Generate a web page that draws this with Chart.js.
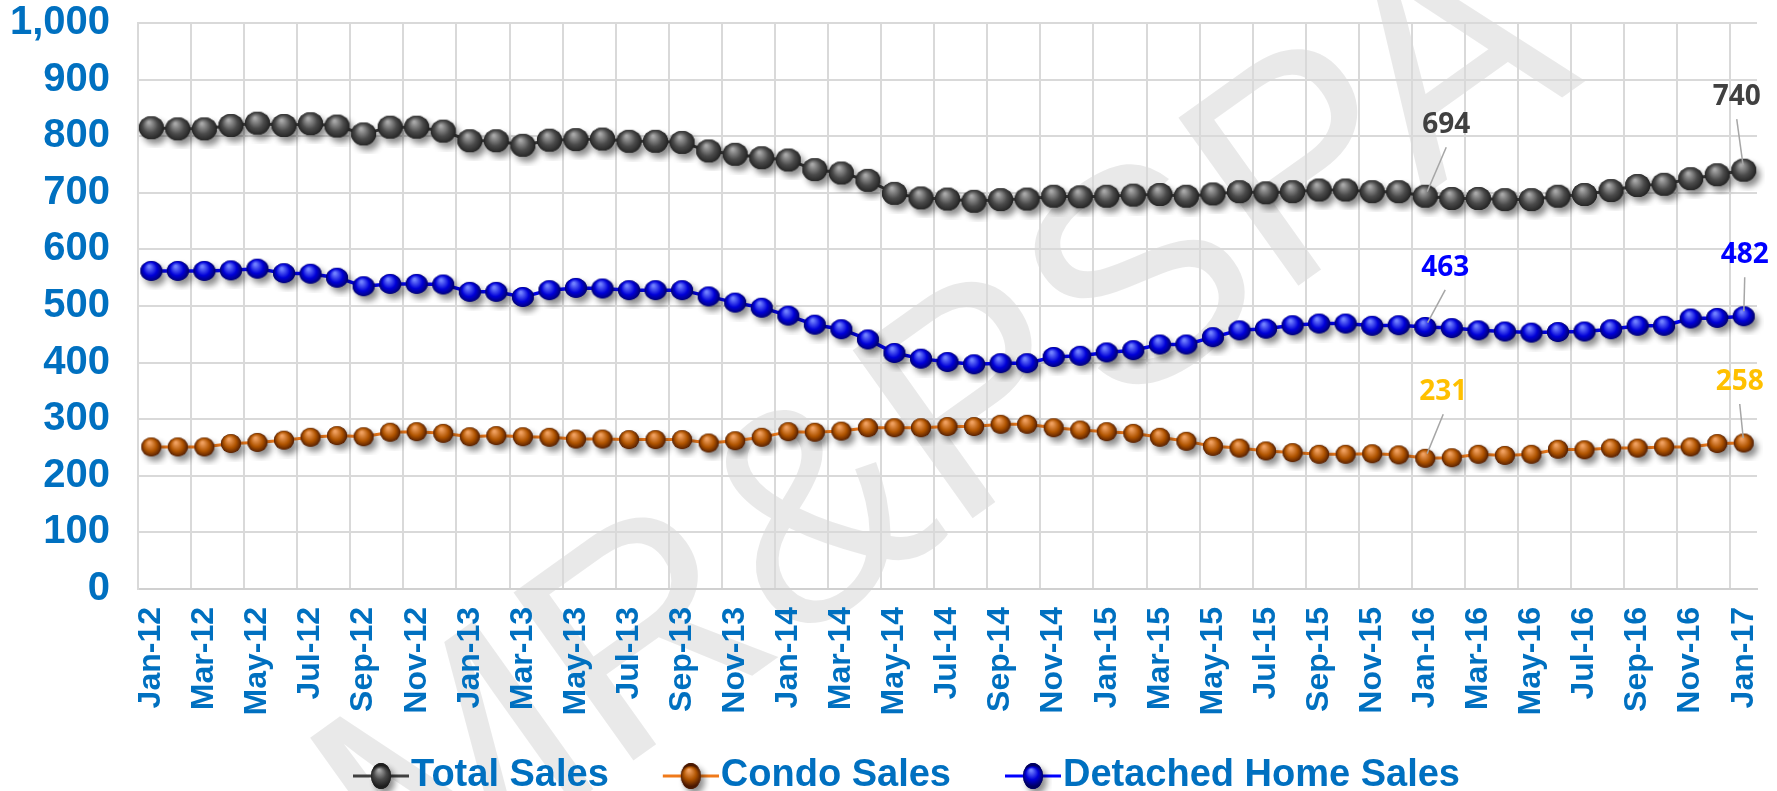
<!DOCTYPE html>
<html>
<head>
<meta charset="utf-8">
<title>Sales</title>
<script src="https://cdn.jsdelivr.net/npm/chart.js@4.4.1/dist/chart.umd.min.js"></script>
<style>
  html, body { margin: 0; padding: 0; background: #fff; }
  canvas { display: block; }
</style>
</head>
<body>
<canvas id="salesChart" width="1777" height="791"></canvas>
<script>
// month names and years used for the category labels (Jan-12 .. Jan-17)
const monthNames = ['Jan', 'Feb', 'Mar', 'Apr', 'May', 'Jun', 'Jul', 'Aug', 'Sep', 'Oct', 'Nov', 'Dec']
const yearLabels = ['12', '13', '14', '15', '16', '17']

const totalSales = [
  815, 813, 813, 819, 823, 819, 822, 818, 804, 816, 816, 809,
  792, 792, 784, 793, 794, 795, 791, 791, 789, 774, 768, 762,
  758, 741, 735, 722, 699, 691, 689, 685, 688, 689, 694, 693,
  694, 696, 697, 694, 698, 702, 700, 702, 705, 705, 702, 702,
  694, 690, 690, 688, 688, 694, 697, 704, 713, 715, 725, 732,
  740,
]
const condoSales = [
  251, 251, 251, 257, 259, 263, 268, 271, 269, 277, 278, 275,
  269, 271, 269, 268, 265, 265, 264, 264, 264, 258, 262, 268,
  278, 277, 279, 285, 285, 285, 287, 287, 291, 291, 285, 281,
  278, 275, 268, 261, 252, 249, 244, 241, 238, 238, 239, 237,
  231, 232, 238, 236, 238, 247, 246, 249, 249, 251, 251, 257,
  258,
]
const detachedSales = [
  562, 562, 562, 563, 566, 558, 557, 550, 535, 539, 539, 538,
  525, 525, 516, 528, 532, 531, 528, 528, 528, 517, 506, 497,
  483, 467, 459, 441, 417, 407, 401, 397, 399, 399, 410, 412,
  418, 422, 432, 432, 445, 457, 460, 466, 469, 469, 465, 466,
  463, 461, 457, 455, 453, 454, 455, 459, 465, 465, 478, 479,
  482,
]

const labels = []
for (const y of yearLabels) {
  for (const m of monthNames) {
    if (labels.length < totalSales.length) labels.push(m + '-' + y)
  }
}

// shaded ball used as the point marker
function makeBall(rx, ry, light, base, dark) {
  const pad = 9
  const c = document.createElement('canvas')
  c.width = Math.ceil((rx + pad) * 2)
  c.height = Math.ceil((ry + pad) * 2)
  const g = c.getContext('2d')
  const cx = c.width / 2
  const cy = c.height / 2
  g.save()
  g.shadowColor = 'rgba(0,0,0,0.45)'
  g.shadowBlur = 6
  g.shadowOffsetX = 4
  g.shadowOffsetY = 5
  g.beginPath()
  g.ellipse(cx, cy, rx, ry, 0, 0, Math.PI * 2)
  g.fillStyle = dark
  g.fill()
  g.restore()
  const grad = g.createRadialGradient(cx - rx * 0.2, cy - ry * 0.45, 1, cx, cy, rx * 1.05)
  grad.addColorStop(0, light)
  grad.addColorStop(0.55, base)
  grad.addColorStop(1, dark)
  g.beginPath()
  g.ellipse(cx, cy, rx, ry, 0, 0, Math.PI * 2)
  g.fillStyle = grad
  g.fill()
  return c
}

// line + ball icon for the legend; the empty left margin spaces the items apart
const legendGap = 61
function makeLegendIcon(lineColor, light, base, dark) {
  const c = document.createElement('canvas')
  c.width = 56 + legendGap
  c.height = 36
  const g = c.getContext('2d')
  g.strokeStyle = lineColor
  g.lineWidth = 3
  g.beginPath()
  g.moveTo(legendGap, 18)
  g.lineTo(legendGap + 56, 18)
  g.stroke()
  const ball = makeBall(10, 13, light, base, dark)
  g.drawImage(ball, legendGap + 28 - ball.width / 2, 18 - ball.height / 2)
  return c
}

const totalBall = makeBall(12.5, 11.5, '#a8a8a8', '#4a4a4a', '#1e1e1e')
const condoBall = makeBall(10, 9.5, '#f0a060', '#b05400', '#4a1800')
const detachedBall = makeBall(11, 10, '#7080ff', '#0000d8', '#000060')

const legendIcons = [
  makeLegendIcon('#404040', '#a8a8a8', '#4a4a4a', '#1e1e1e'),
  makeLegendIcon('#f07a1a', '#f0a060', '#b05400', '#4a1800'),
  makeLegendIcon('#0000ff', '#7080ff', '#0000d8', '#000060'),
]

// faint diagonal watermark behind everything
const watermarkPlugin = {
  id: 'watermark',
  beforeDraw(chart) {
    const ctx = chart.ctx
    ctx.save()
    ctx.translate(410, 920)
    ctx.rotate(-0.62)
    ctx.font = '300px "Liberation Sans", Arial, sans-serif'
    ctx.fillStyle = 'rgba(0,0,0,0.085)'
    ctx.textBaseline = 'alphabetic'
    ctx.fillText('MR&PSPA', 0, 0)
    ctx.restore()
  },
}

// value callouts with a thin leader line
const calloutPlugin = {
  id: 'callouts',
  afterDatasetsDraw(chart, args, opts) {
    const ctx = chart.ctx
    ctx.save()
    ctx.font = 'bold 28px "Open Sans", "Liberation Sans", sans-serif'
    ctx.textAlign = 'center'
    ctx.textBaseline = 'middle'
    opts.items.forEach((item) => {
      const pt = chart.getDatasetMeta(item.dataset).data[item.index]
      const value = chart.data.datasets[item.dataset].data[item.index]
      const lx = pt.x + item.dx
      const ly = pt.y + item.dy
      const sx = lx
      const sy = ly + 22
      const vx = sx - pt.x
      const vy = sy - pt.y
      const len = Math.hypot(vx, vy)
      ctx.strokeStyle = '#a6a6a6'
      ctx.lineWidth = 1.5
      ctx.beginPath()
      ctx.moveTo(sx, sy)
      ctx.lineTo(pt.x + (vx / len) * 5, pt.y + (vy / len) * 5)
      ctx.stroke()
      ctx.fillStyle = item.color
      ctx.fillText(String(value), lx, ly)
    })
    ctx.restore()
  },
}

Chart.defaults.font.family = '"Liberation Sans", Arial, sans-serif'

const ctx = document.getElementById('salesChart').getContext('2d')
new Chart(ctx, {
  type: 'line',
  data: {
    labels,
    datasets: [
      {
        label: 'Total Sales',
        data: totalSales,
        borderColor: '#404040',
        borderWidth: 3,
        pointStyle: totalBall,
        pointRadius: 12,
        tension: 0,
      },
      {
        label: 'Condo Sales',
        data: condoSales,
        borderColor: '#f07a1a',
        borderWidth: 3,
        pointStyle: condoBall,
        pointRadius: 10,
        tension: 0,
      },
      {
        label: 'Detached Home Sales',
        data: detachedSales,
        borderColor: '#0000ff',
        borderWidth: 3.5,
        pointStyle: detachedBall,
        pointRadius: 11,
        tension: 0,
      },
    ],
  },
  options: {
    responsive: false,
    animation: false,
    devicePixelRatio: 1,
    layout: { padding: { top: 23, right: 20, left: 12, bottom: -14 } },
    scales: {
      x: {
        offset: true,
        grid: {
          offset: true,
          drawTicks: false,
          lineWidth: 2,
          color: (c) => (c.index % 2 === 0 ? '#d9d9d9' : 'rgba(0,0,0,0)'),
        },
        border: { color: '#d0d0d0', width: 2 },
        ticks: {
          autoSkip: false,
          maxRotation: 90,
          minRotation: 90,
          padding: 18,
          color: '#0070c0',
          font: { size: 32, weight: 'bold' },
          callback: (value, index) => (index % 2 === 0 ? labels[index] : ''),
        },
        afterFit: (scale) => {
          scale.height = 158
          scale.paddingLeft = 0
          scale.paddingRight = 0
        },
      },
      y: {
        min: 0,
        max: 1000,
        grid: { color: '#d9d9d9', lineWidth: 2, drawTicks: false },
        border: { color: '#d9d9d9', width: 2 },
        ticks: {
          stepSize: 100,
          padding: 28,
          color: '#0070c0',
          font: { size: 40, weight: 'bold' },
          callback: (v) => v.toLocaleString('en-US'),
        },
        afterFit: (scale) => {
          scale.width = 126
          scale.paddingTop = 0
          scale.paddingBottom = 0
        },
      },
    },
    plugins: {
      tooltip: { enabled: false },
      legend: {
        position: 'bottom',
        labels: {
          usePointStyle: true,
          pointStyleWidth: 22 + legendGap,
          padding: 10,
          color: '#0070c0',
          font: { size: 38, weight: 'bold' },
          generateLabels: (chart) =>
            chart.data.datasets.map((ds, i) => ({
              text: ds.label,
              pointStyle: legendIcons[i],
              fontColor: '#0070c0',
              fillStyle: 'rgba(0,0,0,0)',
              strokeStyle: 'rgba(0,0,0,0)',
              lineWidth: 0,
              hidden: false,
              datasetIndex: i,
            })),
        },
      },
      callouts: {
        items: [
          { dataset: 0, index: 48, dx: 21, dy: -71, color: '#404040' },
          { dataset: 0, index: 60, dx: -7, dy: -73, color: '#404040' },
          { dataset: 2, index: 48, dx: 20, dy: -59, color: '#0000ff' },
          { dataset: 2, index: 60, dx: 1, dy: -61, color: '#0000ff' },
          { dataset: 1, index: 48, dx: 18, dy: -66, color: '#ffc000' },
          { dataset: 1, index: 60, dx: -4, dy: -61, color: '#ffc000' },
        ],
      },
    },
  },
  plugins: [watermarkPlugin, calloutPlugin],
})
</script>
</body>
</html>
